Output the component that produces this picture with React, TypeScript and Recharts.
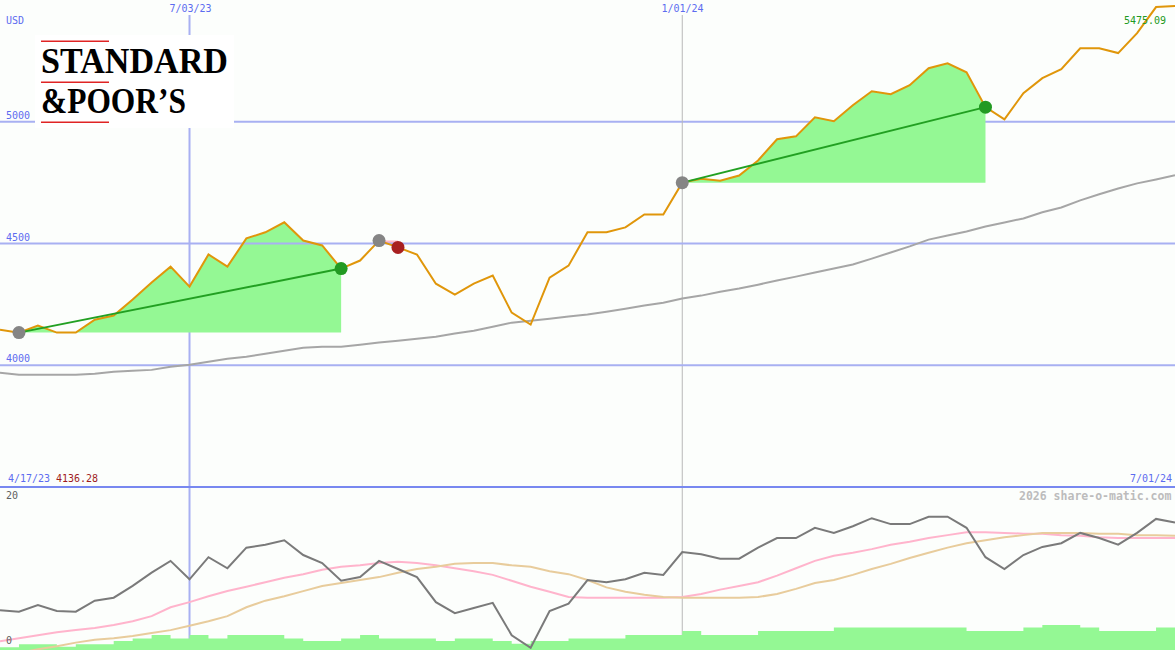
import React from 'react';
import { ComposedChart, Line, Area, XAxis, YAxis, ReferenceLine, CartesianGrid } from 'recharts';

// weekly closes, one point per week from 4/24/23 to 7/01/24
const price = [
  4146, 4134, 4163, 4134, 4134, 4187, 4204, 4270, 4340, 4405,
  4323, 4455, 4405, 4521, 4546, 4587, 4512, 4492, 4397, 4430,
  4512, 4484, 4455, 4335, 4290, 4335, 4368, 4216, 4167, 4360,
  4409, 4546, 4546, 4566, 4619, 4619, 4750, 4766, 4758, 4779,
  4841, 4928, 4940, 5018, 5002, 5068, 5125, 5113, 5150, 5220,
  5240, 5203, 5060, 5010, 5117, 5179, 5216, 5302, 5302, 5282,
  5364, 5471, 5475.09,
];

// long moving average (grey)
const movingAvg = [
  3969, 3961, 3961, 3961, 3961, 3965, 3973, 3977, 3981, 3994,
  4002, 4014, 4027, 4035, 4047, 4060, 4072, 4076, 4076, 4084,
  4093, 4101, 4109, 4117, 4130, 4142, 4158, 4175, 4183, 4191,
  4200, 4208, 4220, 4232, 4245, 4257, 4274, 4286, 4302, 4315,
  4331, 4348, 4364, 4381, 4397, 4414, 4438, 4463, 4488, 4516,
  4533, 4549, 4570, 4586, 4603, 4628, 4648, 4677, 4702, 4726,
  4747, 4763, 4780,
];

// lower panel, 0..20 scale
const momentum = [
  5.4, 5.2, 6.1, 5.3, 5.2, 6.7, 7.1, 8.7, 10.5, 12.1,
  9.6, 12.6, 11.1, 13.9, 14.3, 14.9, 12.9, 11.8, 9.4, 9.9,
  12.1, 11.0, 9.9, 6.5, 5.0, 5.7, 6.4, 2.0, 0.3, 5.3,
  6.3, 9.5, 9.2, 9.6, 10.5, 10.2, 13.3, 13.0, 12.4, 12.4,
  13.9, 15.2, 15.2, 16.6, 15.9, 16.8, 17.9, 17.1, 17.1, 18.1,
  18.1, 16.6, 12.6, 11.0, 12.9, 14.0, 14.5, 15.9, 15.2, 14.3,
  15.9, 17.8, 17.3,
];

const fastAvg = [
  1.2, 1.6, 2.0, 2.4, 2.7, 3.0, 3.4, 3.9, 4.6, 5.8,
  6.5, 7.3, 8.0, 8.6, 9.2, 9.8, 10.3, 10.9, 11.3, 11.5,
  11.8, 12.0, 11.8, 11.5, 11.1, 10.7, 10.2, 9.4, 8.6, 7.9,
  7.2, 7.1, 7.1, 7.1, 7.1, 7.1, 7.2, 7.6, 8.2, 8.7,
  9.2, 10.1, 11.1, 12.1, 12.8, 13.2, 13.7, 14.3, 14.7, 15.2,
  15.6, 16.0, 16.0, 15.9, 15.8, 15.8, 15.6, 15.5, 15.3, 15.2,
  15.2, 15.2, 15.2,
];

const slowAvg = [
  -1.0, -0.4, 0.1, 0.5, 1.0, 1.4, 1.6, 1.9, 2.3, 2.7,
  3.3, 3.9, 4.6, 5.8, 6.7, 7.3, 8.0, 8.7, 9.1, 9.5,
  9.9, 10.5, 11.0, 11.3, 11.7, 11.8, 11.8, 11.5, 11.3, 10.7,
  10.3, 9.5, 8.5, 7.9, 7.5, 7.2, 7.1, 7.1, 7.1, 7.1,
  7.2, 7.6, 8.3, 9.1, 9.5, 10.2, 11.0, 11.7, 12.5, 13.2,
  13.9, 14.5, 14.9, 15.3, 15.6, 15.9, 15.9, 15.9, 15.8, 15.8,
  15.6, 15.6, 15.5,
];

const volume = [
  1.0, 2.1, 2.1, 1.2, 2.1, 2.1, 3.3, 4.3, 5.6, 4.3,
  5.6, 4.3, 5.6, 5.6, 5.6, 4.3, 3.3, 3.3, 4.3, 5.6,
  4.3, 4.3, 4.3, 3.3, 4.3, 4.3, 3.3, 2.3, 3.3, 3.3,
  4.3, 4.3, 4.3, 5.6, 5.6, 5.6, 7.0, 5.6, 5.6, 5.6,
  7.0, 7.0, 7.0, 7.0, 8.3, 8.3, 8.3, 8.3, 8.3, 8.3,
  8.3, 7.0, 7.0, 7.0, 8.3, 9.3, 9.3, 8.3, 7.0, 7.0,
  7.0, 8.3, 8.3,
];

const trades = [
  { entry: 1, exit: 18, win: true },
  { entry: 20, exit: 21, win: false },
  { entry: 36, exit: 52, win: true },
];

const dateMarks = [
  { week: 10, label: '7/03/23' },
  { week: 36, label: '1/01/24' },
];

const W = 1175;
const TOP_H = 487;
const BOT_H = 162;
const BG = '#fcfefc';
const mono = "'DejaVu Sans Mono', monospace";
const blue = '#5c6cf0';
const gridBlue = '#a8b0f2';

const rows = price.map((p, i) => {
  const row: Record<string, number | null> = {
    week: i, price: p, ma: movingAvg[i], mom: momentum[i], fast: fastAvg[i],
    slow: slowAvg[i], vol: volume[i], entryDot: null, winDot: null, lossDot: null,
  };
  trades.forEach((t, n) => {
    row[`fill${n}`] = i >= t.entry && i <= t.exit ? p : null;
    row[`trend${n}`] = i === t.entry || i === t.exit ? p : null;
    if (i === t.entry) row.entryDot = p;
    if (i === t.exit) row[t.win ? 'winDot' : 'lossDot'] = p;
  });
  return row;
});

const Txt = ({ x, y, color, size = 10, bold = false, children }: any) => (
  <div style={{
    position: 'absolute', left: x, top: y, fontFamily: mono, fontSize: size, lineHeight: '12px',
    color, fontWeight: bold ? 'bold' : 'normal', whiteSpace: 'nowrap',
  }}>{children}</div>
);

const serif = "'Liberation Serif', 'DejaVu Serif', serif";

const Logo = () => (
  <svg width={199} height={93} style={{ position: 'absolute', left: 35, top: 35, background: '#ffffff', overflow: 'visible' }}>
    <rect x={6} y={5.5} width={68} height={1.5} fill="#e02424" />
    <text x={6} y={38} fontFamily={serif} fontSize={35} fontWeight="bold"
      textLength={187} lengthAdjust="spacingAndGlyphs" fill="#000">STANDARD</text>
    <rect x={6} y={46.5} width={68} height={1.5} fill="#e02424" />
    <text x={6} y={78} fontFamily={serif} fontSize={35} fontWeight="bold"
      textLength={145} lengthAdjust="spacingAndGlyphs" fill="#000">{'&POOR’S'}</text>
    <rect x={6} y={86.5} width={68} height={1.5} fill="#e02424" />
  </svg>
);

export default function App() {
  return (
    <div style={{ position: 'absolute', left: 0, top: 0, width: W, height: 650, background: BG, overflow: 'hidden' }}>
      <div style={{ position: 'absolute', left: 0, top: 0 }}>
        <ComposedChart width={W} height={TOP_H} data={rows} margin={{ top: 0, right: 0, bottom: 0, left: 0 }}>
          <XAxis dataKey="week" type="number" domain={[0, 62]} hide />
          <YAxis domain={[3500, 5500]} hide />
          <CartesianGrid horizontalValues={[5000]} verticalValues={[10]} stroke={gridBlue} strokeWidth={2} />
          <CartesianGrid horizontal={false} verticalValues={[36]} stroke="#b8b8b8" strokeWidth={1} />
          <ReferenceLine y={4000} stroke={gridBlue} strokeWidth={2} />
          <ReferenceLine y={4500} stroke={gridBlue} strokeWidth={2} />
          <Line dataKey="ma" stroke="#a6a6a6" strokeWidth={2} dot={false} activeDot={false} isAnimationActive={false} />
          {trades.map((t, n) => (
            <Area key={n} dataKey={`fill${n}`} baseValue={price[t.entry]} type="linear"
              fill={t.win ? '#94f894' : '#ffb6c8'} fillOpacity={1} stroke="none"
              isAnimationActive={false} activeDot={false} />
          ))}
          <Line dataKey="price" stroke="#e0960a" strokeWidth={2} dot={false} activeDot={false} isAnimationActive={false} />
          {trades.map((t, n) => (t.win ? (
            <Line key={n} dataKey={`trend${n}`} connectNulls stroke="#22a022" strokeWidth={2}
              dot={false} activeDot={false} isAnimationActive={false} />
          ) : null))}
          <Line dataKey="entryDot" stroke="none" dot={{ r: 6.5, fill: '#858585', stroke: 'none' }} activeDot={false} isAnimationActive={false} />
          <Line dataKey="winDot" stroke="none" dot={{ r: 6.5, fill: '#229a22', stroke: 'none' }} activeDot={false} isAnimationActive={false} />
          <Line dataKey="lossDot" stroke="none" dot={{ r: 6.5, fill: '#a82020', stroke: 'none' }} activeDot={false} isAnimationActive={false} />
        </ComposedChart>
      </div>

      <div style={{ position: 'absolute', left: 0, top: 486, width: W, height: 2, background: '#7888f0' }} />

      <div style={{ position: 'absolute', left: 0, top: 488 }}>
        <ComposedChart width={W} height={BOT_H} data={rows} margin={{ top: 0, right: 0, bottom: 0, left: 0 }}>
          <XAxis dataKey="week" type="number" domain={[0, 62]} hide />
          <YAxis yAxisId="ind" domain={[0, 22]} allowDataOverflow hide />
          <YAxis yAxisId="vol" domain={[0, 60]} hide />
          <CartesianGrid yAxisId="ind" horizontal={false} verticalValues={[10]} stroke={gridBlue} strokeWidth={2} />
          <CartesianGrid yAxisId="ind" horizontal={false} verticalValues={[36]} stroke="#b8b8b8" strokeWidth={1} />
          <Area yAxisId="vol" dataKey="vol" type="stepAfter" fill="#94f894" fillOpacity={1} stroke="none"
            isAnimationActive={false} activeDot={false} />
          <Line yAxisId="ind" dataKey="fast" stroke="#ffb4cc" strokeWidth={2} dot={false} activeDot={false} isAnimationActive={false} />
          <Line yAxisId="ind" dataKey="slow" stroke="#e8cc9c" strokeWidth={2} dot={false} activeDot={false} isAnimationActive={false} />
          <Line yAxisId="ind" dataKey="mom" stroke="#7a7a7a" strokeWidth={2} dot={false} activeDot={false} isAnimationActive={false} />
        </ComposedChart>
      </div>

      <Logo />

      <Txt x={6} y={15} color={blue}>USD</Txt>
      <Txt x={6} y={110} color={blue}>5000</Txt>
      <Txt x={6} y={232} color={blue}>4500</Txt>
      <Txt x={6} y={353} color={blue}>4000</Txt>
      {dateMarks.map((m) => (
        <div key={m.label} style={{
          position: 'absolute', left: Math.round((m.week * W) / 62) - 21, top: 0, width: 43, height: 15,
          paddingTop: 3, boxSizing: 'border-box', background: BG, fontFamily: mono, fontSize: 10,
          lineHeight: '12px', color: blue, textAlign: 'center',
        }}>{m.label}</div>
      ))}
      <Txt x={1124} y={15} color="#229a22">5475.09</Txt>
      <Txt x={8} y={473} color={blue}>4/17/23</Txt>
      <Txt x={56} y={473} color="#a01c1c">4136.28</Txt>
      <Txt x={1130} y={473} color={blue}>7/01/24</Txt>
      <Txt x={6} y={490} color="#606060">20</Txt>
      <Txt x={6} y={635} color="#606060">0</Txt>
      <Txt x={1019} y={490} color="#bcbcbc" size={11.5} bold>2026 share-o-matic.com</Txt>
    </div>
  );
}
